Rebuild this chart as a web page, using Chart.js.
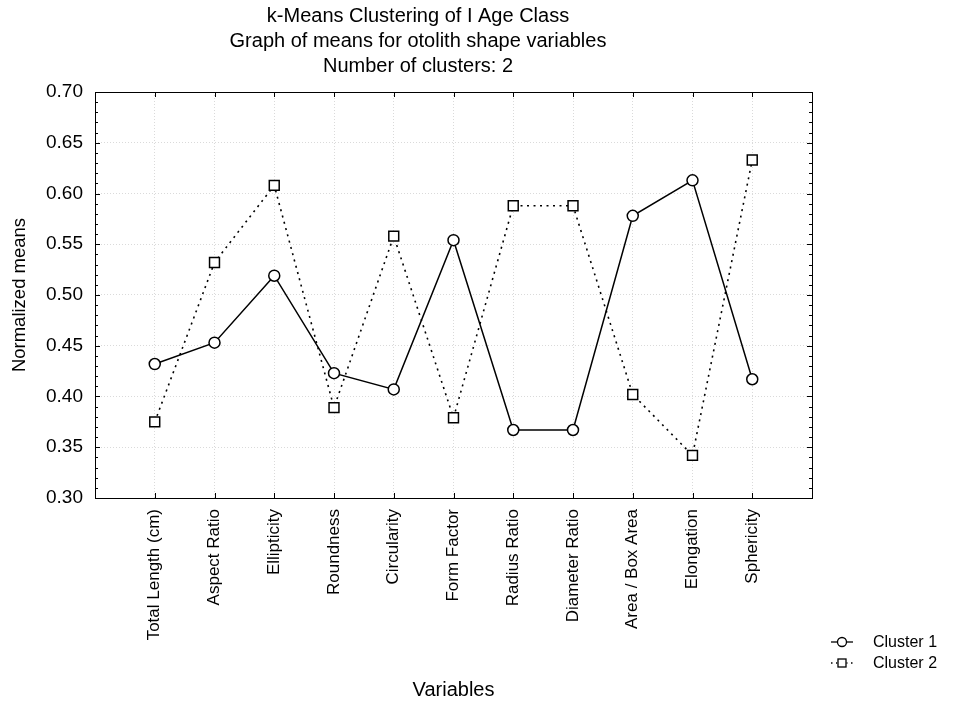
<!DOCTYPE html>
<html>
<head>
<meta charset="utf-8">
<script src="https://cdn.jsdelivr.net/npm/chart.js@4/dist/chart.umd.min.js"></script>
<style>
  html, body { margin: 0; padding: 0; background: #fff; }
  canvas { display: block; }
</style>
</head>
<body>
<canvas id="c" width="955" height="706"></canvas>
<script>
// Shape variables along the x axis
const variables = [
  'Total Length (cm)', 'Aspect Ratio', 'Ellipticity', 'Roundness', 'Circularity',
  'Form Factor', 'Radius Ratio', 'Diameter Ratio', 'Area / Box Area', 'Elongation', 'Sphericity'
];
// Normalized cluster means
const cluster1 = [0.432, 0.453, 0.519, 0.423, 0.407, 0.554, 0.367, 0.367, 0.578, 0.613, 0.417];
const cluster2 = [0.375, 0.532, 0.608, 0.389, 0.558, 0.379, 0.588, 0.588, 0.402, 0.342, 0.633];
const seriesNames = ['Cluster 1', 'Cluster 2'];
const titleLines = [
  'k-Means Clustering of I Age Class',
  'Graph of means for otolith shape variables',
  'Number of clusters: 2'
];

const FONT = '"Liberation Sans", Arial, sans-serif';
const toPoints = vals => vals.map((v, i) => ({ x: i + 1, y: v }));

// Frame, inward tick marks, title and legend
const decor = {
  id: 'decor',
  afterDatasetsDraw(chart) {
    const { ctx, chartArea: a, scales: { x, y } } = chart;
    ctx.save();
    ctx.strokeStyle = '#000';
    ctx.lineWidth = 1;
    ctx.setLineDash([]);
    ctx.strokeRect(Math.round(a.left) + 0.5, Math.round(a.top) + 0.5,
                   Math.round(a.right - a.left), Math.round(a.bottom - a.top));
    ctx.beginPath();
    // y ticks: majors every 0.05, minors every 0.01, on both sides
    for (let k = 30; k <= 70; k++) {
      const py = Math.round(y.getPixelForValue(k / 100)) + 0.5;
      const len = (k % 5 === 0) ? 5 : 3;
      ctx.moveTo(a.left, py); ctx.lineTo(a.left + len, py);
      ctx.moveTo(a.right, py); ctx.lineTo(a.right - len, py);
    }
    // x ticks at each variable, top and bottom
    for (let i = 1; i <= variables.length; i++) {
      const px = Math.round(x.getPixelForValue(i)) + 0.5;
      ctx.moveTo(px, a.top); ctx.lineTo(px, a.top + 5);
      ctx.moveTo(px, a.bottom); ctx.lineTo(px, a.bottom - 5);
    }
    ctx.stroke();
    ctx.restore();
  },
  afterDraw(chart) {
    const { ctx } = chart;
    ctx.save();
    ctx.fillStyle = '#000';
    ctx.font = '20px ' + FONT;
    ctx.textAlign = 'center';
    ctx.textBaseline = 'alphabetic';
    titleLines.forEach((t, i) => ctx.fillText(t, 418, 22 + i * 25));

    // legend
    const lx0 = 831, lx1 = 853, mx = 842, tx = 873;
    const rows = [642, 663];
    ctx.strokeStyle = '#000';
    ctx.lineWidth = 1.3;
    // row 1: solid line + circle
    ctx.beginPath();
    ctx.moveTo(lx0, rows[0]); ctx.lineTo(lx1, rows[0]);
    ctx.stroke();
    ctx.beginPath();
    ctx.arc(mx, rows[0], 4.5, 0, Math.PI * 2);
    ctx.fillStyle = '#fff'; ctx.fill(); ctx.stroke();
    // row 2: dotted line + square
    ctx.setLineDash([1.5, 3.5]);
    ctx.beginPath();
    ctx.moveTo(lx0, rows[1]); ctx.lineTo(lx1, rows[1]);
    ctx.stroke();
    ctx.setLineDash([]);
    ctx.fillStyle = '#fff';
    ctx.fillRect(mx - 4.5, rows[1] - 4.5, 9, 9);
    ctx.strokeRect(mx - 4, rows[1] - 4, 8, 8);
    ctx.fillStyle = '#000';
    ctx.textAlign = 'left';
    ctx.textBaseline = 'middle';
    ctx.font = '16px ' + FONT;
    seriesNames.forEach((n, i) => ctx.fillText(n, tx, rows[i] + 1));
    ctx.restore();
  }
};

new Chart(document.getElementById('c'), {
  type: 'line',
  data: {
    datasets: [
      {
        label: seriesNames[0],
        data: toPoints(cluster1),
        borderColor: '#000',
        borderWidth: 1.5,
        pointStyle: 'circle',
        pointRadius: 5.5,
        pointBorderWidth: 1.5,
        pointBackgroundColor: '#fff',
        pointBorderColor: '#000',
        tension: 0
      },
      {
        label: seriesNames[1],
        data: toPoints(cluster2),
        borderColor: '#000',
        borderWidth: 1.6,
        borderDash: [2, 4.5],
        pointStyle: 'rect',
        pointRadius: 7,
        pointBorderWidth: 1.5,
        pointBackgroundColor: '#fff',
        pointBorderColor: '#000',
        tension: 0
      }
    ]
  },
  options: {
    responsive: false,
    animation: false,
    layout: { padding: { top: 92, right: 143, bottom: 0, left: 0 } },
    plugins: {
      legend: { display: false },
      title: { display: false },
      tooltip: { enabled: false }
    },
    scales: {
      x: {
        type: 'linear',
        min: 0,
        max: 12,
        afterFit: s => { s.height = 208; },
        afterBuildTicks: s => {
          s.ticks = [];
          for (let i = 0; i <= 12; i++) s.ticks.push({ value: i });
        },
        ticks: {
          autoSkip: false,
          maxRotation: 90,
          minRotation: 90,
          padding: 11,
          color: '#000',
          font: { family: FONT, size: 17 },
          callback: v => variables[v - 1] || ''
        },
        grid: { color: '#dadada', lineWidth: 1, drawTicks: false },
        border: { display: false, dash: [1, 2] },
        title: {
          display: true,
          text: 'Variables',
          color: '#000',
          font: { family: FONT, size: 20 },
          padding: { top: 0, bottom: 4 }
        }
      },
      y: {
        min: 0.3,
        max: 0.7,
        afterFit: s => { s.width = 95; },
        afterBuildTicks: s => {
          s.ticks = [];
          for (let k = 30; k <= 70; k += 5) s.ticks.push({ value: k / 100 });
        },
        ticks: {
          padding: 12,
          color: '#000',
          font: { family: FONT, size: 19 },
          callback: v => v.toFixed(2)
        },
        grid: { color: '#dadada', lineWidth: 1, drawTicks: false },
        border: { display: false, dash: [1, 2] },
        title: {
          display: true,
          text: 'Normalized means',
          color: '#000',
          font: { family: FONT, size: 18.5 },
          padding: { top: 9, bottom: 0 }
        }
      }
    }
  },
  plugins: [decor]
});
</script>
</body>
</html>
